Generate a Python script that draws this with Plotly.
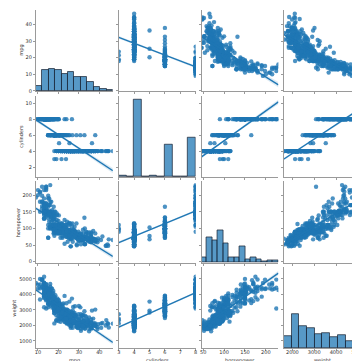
import numpy as np
import plotly.graph_objects as go

# ---------------- data (auto-mpg) ----------------
mpg = [18, 15, 18, 16, 17, 15, 14, 14, 14, 15, 15, 14, 15, 14, 24, 22, 18, 21, 27, 26,
       25, 24, 25, 26, 21, 10, 10, 11, 9, 27, 28, 25, 25, 19, 16, 17, 19, 18, 14, 14,
       14, 14, 12, 13, 13, 18, 22, 19, 18, 23, 28, 30, 30, 31, 35, 27, 26, 24, 25, 23,
       20, 21, 13, 14, 15, 14, 17, 11, 13, 12, 13, 19, 15, 13, 13, 14, 18, 22, 21, 26,
       22, 28, 23, 28, 27, 13, 14, 13, 14, 15, 12, 13, 13, 14, 13, 12, 13, 18, 16, 18,
       18, 23, 26, 11, 12, 13, 12, 18, 20, 21, 22, 18, 19, 21, 26, 15, 16, 29, 24, 20,
       19, 15, 24, 20, 11, 20, 21, 19, 15, 31, 26, 32, 25, 16, 16, 18, 16, 13, 14, 14,
       14, 29, 26, 26, 31, 32, 28, 24, 26, 24, 26, 31, 19, 18, 15, 15, 16, 15, 16, 14,
       17, 16, 15, 18, 21, 20, 13, 29, 23, 20, 23, 24, 25, 24, 18, 29, 19, 23, 23, 22,
       25, 33, 28, 25, 25, 26, 27, 17.5, 16, 15.5, 14.5, 22, 22, 24, 22.5, 29, 24.5, 29, 33, 20,
       18, 18.5, 17.5, 29.5, 32, 28, 26.5, 20, 13, 19, 19, 16.5, 16.5, 13, 13, 13, 31.5, 30, 36, 25.5,
       33.5, 17.5, 17, 15.5, 15, 17.5, 20.5, 19, 18.5, 16, 15.5, 15.5, 16, 29, 24.5, 26, 25.5, 30.5, 33.5, 30,
       30.5, 22, 21.5, 21.5, 43.1, 36.1, 32.8, 39.4, 36.1, 19.9, 19.4, 20.2, 19.2, 20.5, 20.2, 25.1, 20.5, 19.4, 20.6, 20.8,
       18.6, 18.1, 19.2, 17.7, 18.1, 17.5, 30, 27.5, 27.2, 30.9, 21.1, 23.2, 23.8, 23.9, 20.3, 17, 21.6, 16.2, 31.5, 29.5,
       21.5, 19.8, 22.3, 20.2, 20.6, 17, 17.6, 16.5, 18.2, 16.9, 15.5, 19.2, 18.5, 31.9, 34.1, 35.7, 27.4, 25.4, 23, 27.2,
       23.9, 34.2, 34.5, 31.8, 37.3, 28.4, 28.8, 26.8, 33.5, 41.5, 38.1, 32.1, 37.2, 28, 26.4, 24.3, 19.1, 34.3, 29.8, 31.3,
       37, 32.2, 46.6, 27.9, 40.8, 44.3, 43.4, 36.4, 30, 44.6, 40.9, 33.8, 29.8, 32.7, 23.7, 35, 23.6, 32.4, 27.2, 26.6,
       25.8, 23.5, 30, 39.1, 39, 35.1, 32.3, 37, 37.7, 34.1, 34.7, 34.4, 29.9, 33, 34.5, 33.7, 32.4, 32.9, 31.6, 28.1,
       30.7, 25.4, 24.2, 22.4, 26.6, 20.2, 17.6, 28, 27, 34, 31, 29, 27, 24, 23, 36, 37, 31, 38, 36,
       36, 36, 34, 38, 32, 38, 25, 38, 26, 22, 32, 36, 27, 27, 44, 32, 28, 31]

cylinders = [8, 8, 8, 8, 8, 8, 8, 8, 8, 8, 8, 8, 8, 8, 4, 6, 6, 6, 4, 4,
             4, 4, 4, 4, 6, 8, 8, 8, 8, 4, 4, 4, 4, 6, 6, 6, 6, 6, 8, 8,
             8, 8, 8, 8, 8, 6, 4, 6, 6, 4, 4, 4, 4, 4, 4, 4, 4, 4, 4, 4,
             4, 4, 8, 8, 8, 8, 8, 8, 8, 8, 8, 3, 8, 8, 8, 8, 4, 4, 4, 4,
             4, 4, 4, 4, 4, 8, 8, 8, 8, 8, 8, 8, 8, 8, 8, 8, 8, 6, 6, 6,
             6, 6, 4, 8, 8, 8, 8, 6, 4, 4, 4, 3, 4, 6, 4, 8, 8, 4, 4, 4,
             4, 8, 4, 6, 8, 6, 6, 6, 6, 4, 4, 4, 4, 6, 6, 6, 8, 8, 8, 8,
             8, 4, 4, 4, 4, 4, 4, 4, 4, 4, 4, 4, 6, 6, 6, 6, 8, 8, 8, 8,
             6, 6, 6, 6, 6, 8, 8, 4, 4, 6, 4, 4, 4, 4, 6, 4, 6, 4, 4, 4,
             4, 4, 4, 4, 4, 4, 4, 8, 8, 8, 8, 6, 6, 6, 6, 4, 4, 4, 4, 6,
             6, 6, 6, 4, 4, 4, 4, 4, 8, 4, 6, 6, 8, 8, 8, 8, 4, 4, 4, 4,
             4, 8, 8, 8, 8, 6, 6, 6, 6, 8, 8, 8, 8, 4, 4, 4, 4, 4, 4, 4,
             4, 6, 4, 3, 4, 4, 4, 4, 4, 8, 8, 8, 6, 6, 6, 4, 6, 6, 6, 6,
             6, 6, 8, 6, 8, 8, 4, 4, 4, 4, 4, 4, 4, 4, 5, 6, 4, 6, 4, 4,
             6, 6, 4, 6, 6, 8, 8, 8, 8, 8, 8, 8, 8, 4, 4, 4, 4, 5, 8, 4,
             8, 4, 4, 4, 4, 4, 6, 6, 4, 4, 4, 4, 4, 4, 4, 4, 6, 4, 4, 4,
             4, 4, 4, 4, 4, 4, 4, 5, 4, 4, 4, 4, 4, 6, 3, 4, 4, 4, 4, 4,
             4, 6, 4, 4, 4, 4, 4, 4, 4, 4, 4, 4, 4, 4, 4, 4, 4, 4, 4, 4,
             6, 6, 6, 6, 8, 6, 6, 4, 4, 4, 4, 4, 4, 4, 4, 4, 4, 4, 4, 4,
             4, 4, 4, 4, 4, 4, 6, 6, 4, 6, 4, 4, 4, 4, 4, 4, 4, 4]

horsepower = [130, 165, 150, 150, 140, 198, 220, 215, 225, 190, 170, 160, 150, 225, 95, 95, 97, 85, 88, 46,
              87, 90, 95, 113, 90, 215, 200, 210, 193, 88, 90, 95, None, 100, 105, 100, 88, 100, 165, 175,
              153, 150, 180, 170, 175, 110, 72, 100, 88, 86, 90, 70, 76, 65, 69, 60, 70, 95, 80, 54,
              90, 86, 165, 175, 150, 153, 150, 208, 155, 160, 190, 97, 150, 130, 140, 150, 112, 76, 87, 69,
              86, 92, 97, 80, 88, 175, 150, 145, 137, 150, 198, 150, 158, 150, 215, 225, 175, 105, 100, 100,
              88, 95, 46, 150, 167, 170, 180, 100, 88, 72, 94, 90, 85, 107, 90, 145, 230, 49, 75, 91,
              112, 150, 110, 122, 180, 95, None, 100, 100, 67, 80, 65, 75, 100, 110, 105, 140, 150, 150, 140,
              150, 83, 67, 78, 52, 61, 75, 75, 75, 97, 93, 67, 95, 105, 72, 72, 170, 145, 150, 148,
              110, 105, 110, 95, 110, 110, 129, 75, 83, 100, 78, 96, 71, 97, 97, 70, 90, 95, 88, 98,
              115, 53, 86, 81, 92, 79, 83, 140, 150, 120, 152, 100, 105, 81, 90, 52, 60, 70, 53, 100,
              78, 110, 95, 71, 70, 75, 72, 102, 150, 88, 108, 120, 180, 145, 130, 150, 68, 80, 58, 96,
              70, 145, 110, 145, 130, 110, 105, 100, 98, 180, 170, 190, 149, 78, 88, 75, 89, 63, 83, 67,
              78, 97, 110, 110, 48, 66, 52, 70, 60, 110, 140, 139, 105, 95, 85, 88, 100, 90, 105, 85,
              110, 120, 145, 165, 139, 140, 68, 95, 97, 75, 95, 105, 85, 97, 103, 125, 115, 133, 71, 68,
              115, 85, 88, 90, 110, 130, 129, 138, 135, 155, 142, 125, 150, 71, 65, 80, 80, 77, 125, 71,
              90, 70, 70, 65, 69, 90, 115, 115, 90, 76, 60, 70, 65, 90, 88, 90, 90, 78, 90, 75,
              92, 75, 65, 105, 65, 48, 48, 67, 67, 67, None, 67, 62, 132, 100, 88, None, 72, 84, 84,
              92, 110, 84, 58, 64, 60, 67, 65, 62, 68, 63, 65, 65, 74, None, 75, 75, 100, 74, 80,
              76, 116, 120, 110, 105, 88, 85, 88, 88, 88, 85, 84, 90, 92, None, 74, 68, 68, 63, 70,
              88, 75, 70, 67, 67, 67, 110, 85, 92, 112, 96, 84, 90, 86, 52, 84, 79, 82]

weight = [3504, 3693, 3436, 3433, 3449, 4341, 4354, 4312, 4425, 3850, 3563, 3609, 3761, 3086, 2372, 2833, 2774, 2587, 2130, 1835,
          2672, 2430, 2375, 2234, 2648, 4615, 4376, 4382, 4732, 2130, 2264, 2228, 2046, 2634, 3439, 3329, 3302, 3288, 4209, 4464,
          4154, 4096, 4955, 4746, 5140, 2962, 2408, 3282, 3139, 2220, 2123, 2074, 2065, 1773, 1613, 1834, 1955, 2278, 2126, 2254,
          2408, 2226, 4274, 4385, 4135, 4129, 3672, 4633, 4502, 4456, 4422, 2330, 3892, 4098, 4294, 4077, 2933, 2511, 2979, 2189,
          2395, 2288, 2506, 2164, 2100, 4100, 3672, 3988, 4042, 3777, 4952, 4464, 4363, 4237, 4735, 4951, 3821, 3121, 3278, 2945,
          3021, 2904, 1950, 4997, 4906, 4654, 4499, 2789, 2279, 2401, 2379, 2124, 2310, 2472, 2265, 4082, 4278, 1867, 2158, 2582,
          2868, 3399, 2660, 2807, 3664, 3102, 2875, 2901, 3336, 1950, 2451, 1836, 2542, 3781, 3632, 3613, 4141, 4699, 4457, 4638,
          4257, 2219, 1963, 2300, 1649, 2003, 2125, 2108, 2246, 2489, 2391, 2000, 3264, 3459, 3432, 3158, 4668, 4440, 4498, 4657,
          3907, 3897, 3730, 3785, 3039, 3221, 3169, 2171, 2639, 2914, 2592, 2702, 2223, 2545, 2984, 1937, 3211, 2694, 2957, 2945,
          2671, 1795, 2464, 2220, 2572, 2255, 2202, 4215, 4190, 3962, 4215, 3233, 3353, 3012, 3085, 2035, 2164, 1937, 1795, 3651,
          3574, 3645, 3193, 1825, 1990, 2155, 2565, 3150, 3940, 3270, 2930, 3820, 4380, 4055, 3870, 3755, 2045, 2155, 1825, 2300,
          1945, 3880, 4060, 4140, 4295, 3520, 3425, 3630, 3525, 4220, 4165, 4325, 4335, 1940, 2740, 2265, 2755, 2051, 2075, 1985,
          2190, 2815, 2600, 2720, 1985, 1800, 1985, 2070, 1800, 3365, 3735, 3570, 3535, 3155, 2965, 2720, 3430, 3210, 3380, 3070,
          3620, 3410, 3425, 3445, 3205, 4080, 2155, 2560, 2300, 2230, 2515, 2745, 2855, 2405, 2830, 3140, 2795, 3410, 1990, 2135,
          3245, 2990, 2890, 3265, 3360, 3840, 3725, 3955, 3830, 4360, 4054, 3605, 3940, 1925, 1975, 1915, 2670, 3530, 3900, 3190,
          3420, 2200, 2150, 2020, 2130, 2670, 2595, 2700, 2556, 2144, 1968, 2120, 2019, 2678, 2870, 3003, 3381, 2188, 2711, 2542,
          2434, 2265, 2110, 2800, 2110, 2085, 2335, 2950, 3250, 1850, 1835, 2145, 1845, 2910, 2420, 2500, 2905, 2290, 2490, 2635,
          2620, 2725, 2385, 1755, 1875, 1760, 2065, 1975, 2050, 1985, 2215, 2045, 2380, 2190, 2320, 2210, 2350, 2615, 2635, 3230,
          3160, 2900, 2930, 3415, 3725, 3060, 3465, 2605, 2640, 2395, 2575, 2525, 2735, 2865, 3035, 1980, 2025, 1970, 2125, 2125,
          2160, 2205, 2245, 1965, 1965, 1995, 2945, 3015, 2585, 2835, 2665, 2370, 2950, 2790, 2130, 2295, 2625, 2720]

variables = ["mpg", "cylinders", "horsepower", "weight"]
x_tick_values = {"mpg": [10, 20, 30, 40], "cylinders": [3, 4, 5, 6, 7, 8],
                 "horsepower": [50, 100, 150, 200], "weight": [2000, 3000, 4000, 5000]}
y_tick_values = {"mpg": [0, 10, 20, 30, 40], "cylinders": [2, 4, 6, 8, 10],
                 "horsepower": [0, 50, 100, 150, 200], "weight": [1000, 2000, 3000, 4000, 5000]}
hist_bins = {"mpg": 12, "cylinders": 10, "horsepower": 14, "weight": 10}

# ---------------- helpers ----------------
def arr(v):
    return np.array([np.nan if a is None else a for a in v], dtype=float)

data = {"mpg": arr(mpg), "cylinders": arr(cylinders),
        "horsepower": arr(horsepower), "weight": arr(weight)}

BLUE = "rgb(31,119,180)"
W, H = 360, 361
col_left = [26.3, 110.3, 194.2, 277.8]
col_w = 78.0
row_top = [2.0, 88.2, 174.4, 260.6]
row_h = 81.7
SPINE = "#9a9a9a"
FONT = dict(family="DejaVu Sans", size=5, color="#303030")

def xdom(j):
    return [col_left[j] / W, (col_left[j] + col_w) / W]

def ydom(i):
    return [1 - (row_top[i] + row_h) / H, 1 - row_top[i] / H]

xr = {v: (float(np.nanmin(data[v])), float(np.nanmax(data[v]))) for v in variables}

def regfit(xv, yv):
    x, y = data[xv], data[yv]
    m = np.isfinite(x) & np.isfinite(y)
    x, y = x[m], y[m]
    b1, b0 = np.polyfit(x, y, 1)
    n = len(x)
    resid = y - (b0 + b1 * x)
    s = np.sqrt(np.sum(resid ** 2) / (n - 2))
    xbar = x.mean()
    sxx = np.sum((x - xbar) ** 2)
    xs = np.linspace(xr[xv][0], xr[xv][1], 100)
    yh = b0 + b1 * xs
    se = s * np.sqrt(1 / n + (xs - xbar) ** 2 / sxx)
    return x, y, xs, yh, yh - 1.96 * se, yh + 1.96 * se

fits = {}
for yv in variables:
    for xv in variables:
        if xv != yv:
            fits[(xv, yv)] = regfit(xv, yv)

yr = {}
for yv in variables:
    lo, hi = np.inf, -np.inf
    for xv in variables:
        if xv == yv:
            continue
        x, y, xs, yh, l, u = fits[(xv, yv)]
        lo = min(lo, y.min(), l.min())
        hi = max(hi, y.max(), u.max())
    sp = hi - lo
    yr[yv] = (float(lo - 0.05 * sp), float(hi + 0.05 * sp))

hists = {}
for v in variables:
    d = data[v][np.isfinite(data[v])]
    counts, edges = np.histogram(d, bins=hist_bins[v])
    hists[v] = (counts, edges)
count_max = float(max(h[0].max() for h in hists.values()) * 1.05)

fig = go.Figure()
layout = {}

for i, yv in enumerate(variables):
    for j, xv in enumerate(variables):
        k = i * 4 + j + 1
        xa = "x" if k == 1 else f"x{k}"
        ya = "y" if k == 1 else f"y{k}"
        xkey = "xaxis" if k == 1 else f"xaxis{k}"
        ykey = "yaxis" if k == 1 else f"yaxis{k}"
        common = dict(showgrid=False, zeroline=False, showline=True,
                      linecolor=SPINE, linewidth=1, ticks="outside",
                      ticklen=2, tickwidth=1, tickcolor=SPINE, tickfont=FONT)
        layout[xkey] = dict(domain=xdom(j), anchor=ya, range=list(xr[xv]),
                            tickvals=x_tick_values[xv], showticklabels=(i == 3),
                            ticklabelstandoff=-3, **common)
        if i == j:
            # diagonal: counts axis, ticks placed at the row variable's values
            lo, hi = yr[yv]
            tv = [t for t in y_tick_values[yv] if lo <= t <= hi]
            layout[ykey] = dict(domain=ydom(i), anchor=xa, range=[0, count_max],
                                tickvals=[(t - lo) / (hi - lo) * count_max for t in tv],
                                ticktext=[str(t) for t in tv],
                                showticklabels=(j == 0), **common)
            counts, edges = hists[xv]
            fig.add_trace(go.Bar(x=(edges[:-1] + edges[1:]) / 2, y=counts,
                                 width=np.diff(edges), xaxis=xa, yaxis=ya,
                                 marker=dict(color="rgba(31,119,180,0.75)",
                                             line=dict(color="rgba(25,35,50,0.8)", width=0.9)),
                                 showlegend=False, hoverinfo="skip"))
        else:
            layout[ykey] = dict(domain=ydom(i), anchor=xa, range=list(yr[yv]),
                                tickvals=y_tick_values[yv], showticklabels=(j == 0), **common)
            x, y, xs, yh, l, u = fits[(xv, yv)]
            fig.add_trace(go.Scatter(x=x, y=y, mode="markers", xaxis=xa, yaxis=ya,
                                     marker=dict(color="rgba(31,119,180,0.8)", size=4.4,
                                                 line=dict(width=0)),
                                     showlegend=False, hoverinfo="skip"))
            fig.add_trace(go.Scatter(x=np.concatenate([xs, xs[::-1]]),
                                     y=np.concatenate([u, l[::-1]]),
                                     fill="toself", fillcolor="rgba(31,119,180,0.15)",
                                     line=dict(width=0), mode="lines", xaxis=xa, yaxis=ya,
                                     showlegend=False, hoverinfo="skip"))
            fig.add_trace(go.Scatter(x=xs, y=yh, mode="lines", xaxis=xa, yaxis=ya,
                                     line=dict(color=BLUE, width=1.4),
                                     showlegend=False, hoverinfo="skip"))

annotations = []
ylabel_x = [12.2, 11.8, 8.4, 5.0]
for i, v in enumerate(variables):
    yc = 1 - (row_top[i] + row_h / 2) / H
    annotations.append(dict(text=v, x=ylabel_x[i] / W, y=yc, xref="paper", yref="paper",
                            textangle=-90, showarrow=False, font=FONT,
                            xanchor="center", yanchor="middle", borderpad=0))
for j, v in enumerate(variables):
    xc = (col_left[j] + col_w / 2) / W
    annotations.append(dict(text=v, x=xc, y=1 - 358.5 / H, xref="paper", yref="paper",
                            showarrow=False, font=FONT, xanchor="center", yanchor="bottom",
                            borderpad=0))

fig.update_layout(width=W, height=H, margin=dict(l=0, r=0, t=0, b=0),
                  paper_bgcolor="white", plot_bgcolor="white", bargap=0,
                  showlegend=False, annotations=annotations, font=FONT, **layout)

fig.write_html("out.html")
